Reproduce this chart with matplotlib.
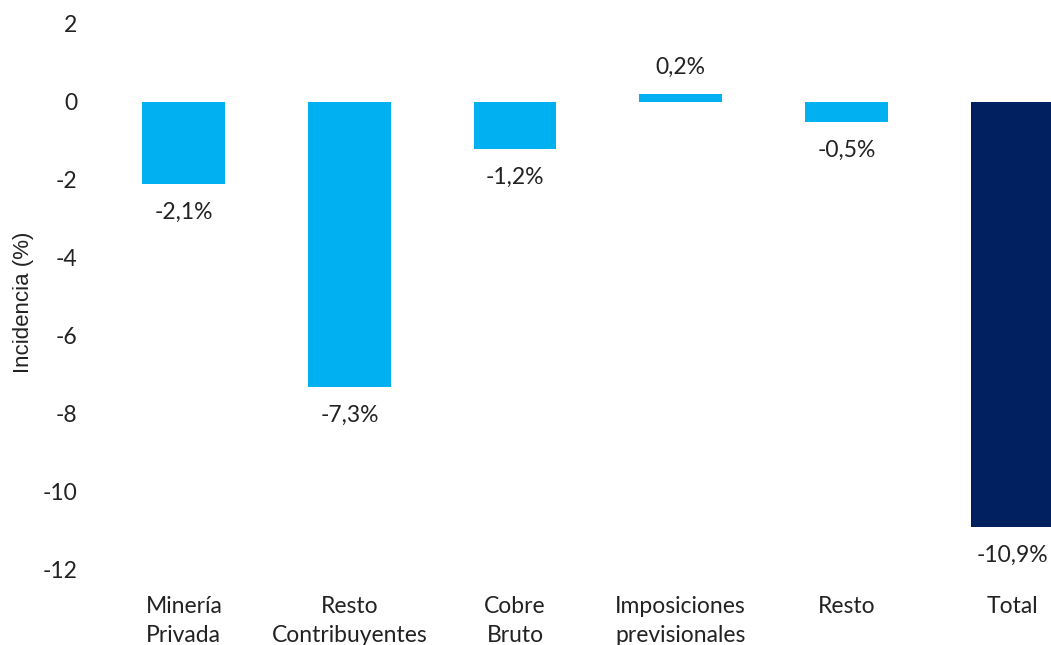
import matplotlib.pyplot as plt

# Incidencia por componente en la variación de ingresos
categorias = ['Minería\nPrivada', 'Resto\nContribuyentes', 'Cobre\nBruto',
              'Imposiciones\nprevisionales', 'Resto', 'Total']
incidencia = [-2.1, -7.3, -1.2, 0.2, -0.5, -10.9]
colores = ['#00B0F0'] * 5 + ['#002060']

plt.rcParams['font.family'] = ['Lato', 'DejaVu Sans']
plt.rcParams['axes.unicode_minus'] = False

fs = 16.5
tc = '#222222'

fig = plt.figure(figsize=(10.51, 6.45), dpi=100)
ax = fig.add_axes([101 / 1051, 1 - 570 / 645, (1051 - 101) / 1051, (570 - 24) / 645])

x = range(len(categorias))
barras = ax.bar(x, incidencia, width=0.5, color=colores)

for b, v in zip(barras, incidencia):
    txt = f'{v:.1f}%'.replace('.', ',')
    off = 12 if v >= 0 else -13
    ax.annotate(txt, (b.get_x() + b.get_width() / 2, v), xytext=(0, off),
                textcoords='offset points', ha='center',
                va='bottom' if v >= 0 else 'top', fontsize=fs, color=tc)

ax.set_xlim(-0.5, 5 + (1051 - 1012) / 165.6)
ax.set_ylim(-12, 2)
ax.set_yticks(range(-12, 3, 2))
ax.set_xticks(list(x))
ax.set_xticklabels(categorias, fontsize=fs, color=tc, linespacing=1.45)
ax.tick_params(axis='y', labelsize=fs, labelcolor=tc, length=0, pad=17)
ax.tick_params(axis='x', length=0, pad=19)
ax.set_ylabel('Incidencia (%)', fontsize=16, color=tc,
              family=['Liberation Sans', 'DejaVu Sans'])
ax.yaxis.set_label_coords(-0.071, 0.49)

for s in ax.spines.values():
    s.set_visible(False)

fig.savefig('out.png', dpi=100)
